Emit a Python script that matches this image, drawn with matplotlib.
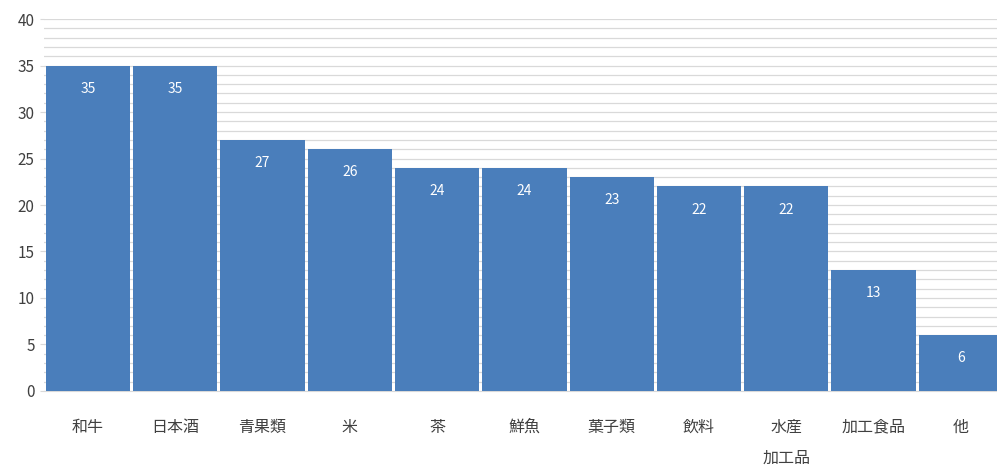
import matplotlib
matplotlib.use("Agg")
from matplotlib import pyplot as plt

plt.rcParams['font.family'] = ['Noto Sans CJK JP', 'DejaVu Sans']

# Data
categories = ["和牛", "日本酒", "青果類", "米", "茶", "鮮魚", "菓子類", "飲料", "水産\n加工品", "加工食品", "他"]
values = [35, 35, 27, 26, 24, 24, 23, 22, 22, 13, 6]

fig = plt.figure(figsize=(9.97, 4.67), dpi=100)
ax = fig.add_axes([0.0445, 0.163, 0.963, 0.796])

x = range(len(categories))
bars = ax.bar(x, values, width=0.965, color="#4A7EBB", zorder=3)

# white value labels inside the top of each bar
for b, v in zip(bars, values):
    ax.text(b.get_x() + b.get_width() / 2, v - 2.5, str(v), ha="center", va="center",
            color="white", fontsize=10)

ax.set_xlim(-0.5, len(categories) - 0.5)
ax.set_ylim(0, 40)
ax.set_yticks(range(0, 41, 5))
ax.set_yticks(range(0, 41, 1), minor=True)
ax.grid(axis="y", which="both", color="#D9D9D9", linewidth=0.9, zorder=0)
ax.set_xticks(list(x))
ax.set_xticklabels(categories, fontsize=11.5, color="#404040", linespacing=2.1, va="top")

for s in ["top", "right", "left"]:
    ax.spines[s].set_visible(False)
ax.spines["bottom"].set_color("#D9D9D9")
ax.tick_params(axis="y", which="major", length=3, color="#D9D9D9", labelsize=11, labelcolor="#404040", pad=4)
ax.tick_params(axis="y", which="minor", length=0)
ax.tick_params(axis="x", length=0, pad=20)

fig.savefig("out.png", dpi=100)
